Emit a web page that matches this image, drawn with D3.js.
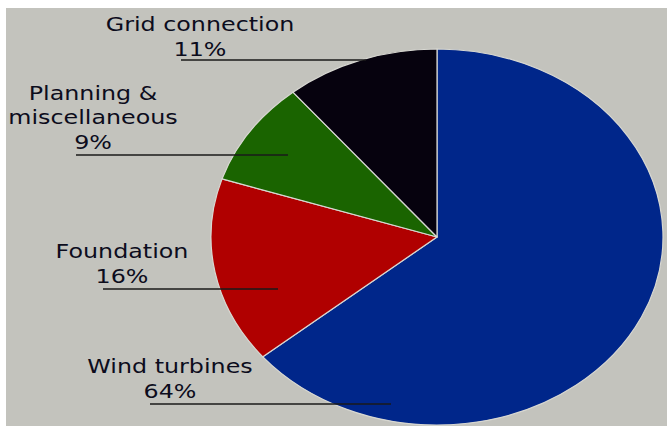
<!DOCTYPE html>
<html>
<head>
<meta charset="utf-8">
<script src="https://cdn.jsdelivr.net/npm/d3@7"></script>
<style>
  html, body { margin: 0; padding: 0; background: #ffffff; }
  svg { display: block; }
</style>
</head>
<body>
<svg id="chart" width="667" height="426"></svg>
<script>
// Cost breakdown of a wind farm, clockwise from 12 o'clock
const categories = ["Wind turbines", "Foundation", "Planning & miscellaneous", "Grid connection"];
const shares = [64, 16, 9, 11];
const colors = ["#00268a", "#b00000", "#1a6400", "#06020e"];
// label text lines per category
const labelLines = [
  ["Wind turbines"],
  ["Foundation"],
  ["Planning &", "miscellaneous"],
  ["Grid connection"]
];

const W = 667, H = 426;
const svg = d3.select("#chart");

// panel background
svg.append("rect")
  .attr("x", 6).attr("y", 8)
  .attr("width", W - 6).attr("height", H - 8)
  .attr("fill", "#c3c3bd");

const cx = 437, cy = 237;
const ry = 188, rx = 226;
const stretch = rx / ry;

const pie = d3.pie().sort(null).value(d => d);
const arcs = pie(shares);
const arc = d3.arc().innerRadius(0).outerRadius(ry);

const g = svg.append("g")
  .attr("transform", `translate(${cx},${cy}) scale(${stretch},1)`);

g.selectAll("path")
  .data(arcs)
  .join("path")
  .attr("d", arc)
  .attr("fill", (d, i) => colors[i])
  .attr("stroke", "#d8d8d2")
  .attr("stroke-width", 1.2)
  .attr("stroke-linejoin", "round")
  .attr("vector-effect", "non-scaling-stroke");

// label layout: centre x, first baseline, underline y and end
const labelLayout = [
  { x: 170, y: 373, lineY: 404, x0: 150, x1: 391 },
  { x: 122, y: 258, lineY: 289, x0: 103, x1: 278 },
  { x: 93,  y: 100, lineY: 155, x0: 76,  x1: 288 },
  { x: 200, y: 31,  lineY: 60,  x0: 181, x1: 366 }
];

const fmt = d => d + "%";
const lineH = 23.5;

const labels = svg.append("g")
  .attr("font-family", "'DejaVu Sans', sans-serif")
  .attr("font-size", 19.5)
  .attr("fill", "#0c0c1c");

categories.forEach((c, i) => {
  const L = labelLayout[i];
  const lines = labelLines[i].concat([fmt(arcs[i].data)]);
  lines.forEach((t, k) => {
    const y = L.y + k * lineH + (k === lines.length - 1 && k > 0 ? 1.5 : 0);
    labels.append("text")
      .attr("transform", `translate(${L.x},${y}) scale(1.22,1)`)
      .attr("text-anchor", "middle")
      .text(t);
  });
  svg.append("line")
    .attr("x1", L.x0).attr("x2", L.x1)
    .attr("y1", L.lineY).attr("y2", L.lineY)
    .attr("stroke", "#1a1a1a")
    .attr("stroke-width", 1.3);
});
</script>
</body>
</html>
